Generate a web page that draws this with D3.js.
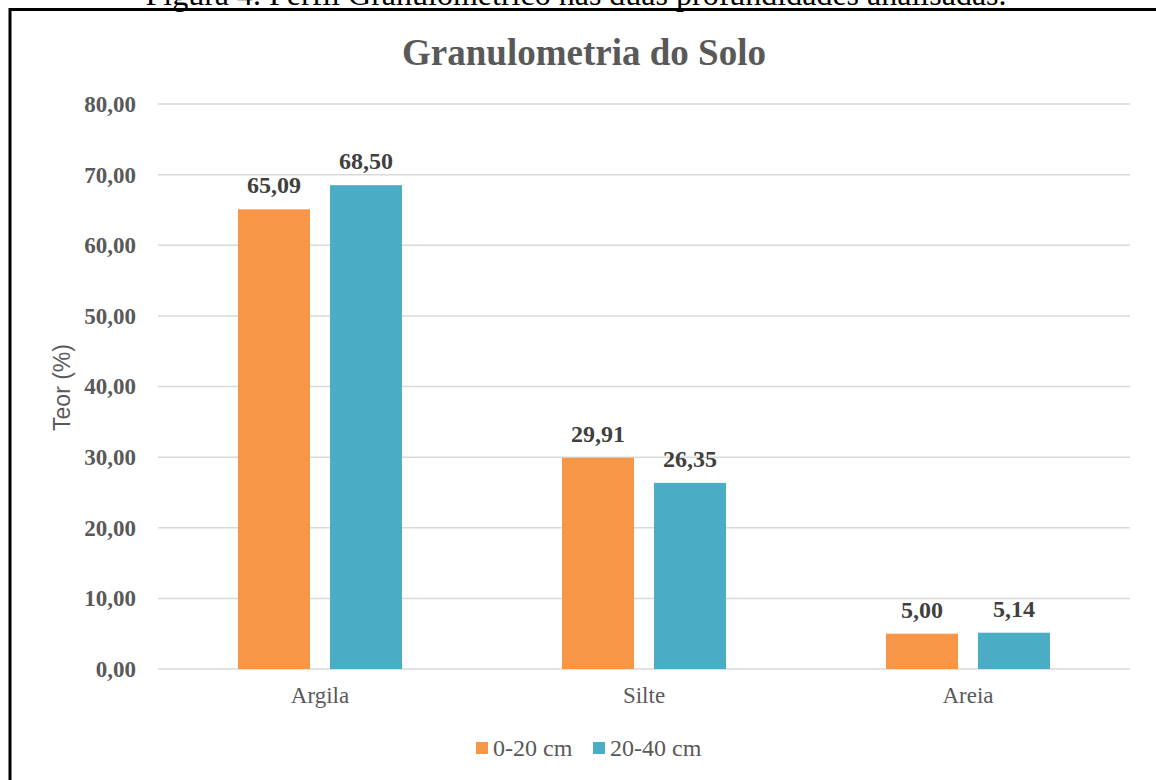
<!DOCTYPE html>
<html>
<head>
<meta charset="utf-8">
<script src="https://cdn.jsdelivr.net/npm/d3@7"></script>
<style>
  body { margin: 0; background: #fff; }
  svg { display: block; }
</style>
</head>
<body>
<div id="chart"></div>
<script>
var categories = ['Argila', 'Silte', 'Areia'];
var seriesNames = ['0-20 cm', '20-40 cm'];
var values0to20 = [65.09, 29.91, 5.00];
var values20to40 = [68.50, 26.35, 5.14];
var yTicks = [0, 10, 20, 30, 40, 50, 60, 70, 80];
var colors = ['#F79646', '#4BACC6'];

var width = 1156, height = 780;
var serif = 'Liberation Serif, Times New Roman, serif';
var fmt = function(v) { return v.toFixed(2).replace('.', ','); };

var svg = d3.select('#chart').append('svg')
  .attr('width', width)
  .attr('height', height);

// caption above the frame, cut by the page edge like in the scan
svg.append('text')
  .attr('x', 576).attr('y', 5)
  .attr('text-anchor', 'middle')
  .attr('font-family', serif)
  .attr('font-size', 32)
  .attr('fill', '#000')
  .text('Figura 4. Perfil Granulométrico nas duas profundidades analisadas.');

// frame
svg.append('path')
  .attr('d', 'M10,' + height + ' V9.5 H' + width)
  .attr('fill', 'none')
  .attr('stroke', '#000')
  .attr('stroke-width', 3);

var margin = { left: 158, right: 26, top: 104, bottom: 111 };
var x = d3.scaleBand()
  .domain(categories)
  .range([margin.left, width - margin.right]);
var y = d3.scaleLinear()
  .domain([0, 80])
  .range([height - margin.bottom, margin.top]);

// gridlines
svg.append('g').selectAll('line')
  .data(yTicks)
  .enter().append('line')
  .attr('x1', margin.left).attr('x2', width - margin.right)
  .attr('y1', function(d) { return y(d); })
  .attr('y2', function(d) { return y(d); })
  .attr('stroke', '#d9d9d9')
  .attr('stroke-width', 1.5);

// y axis labels
var yAxis = d3.axisLeft(y).tickValues(yTicks).tickFormat(fmt).tickSize(0).tickPadding(22);
var gy = svg.append('g')
  .attr('transform', 'translate(' + margin.left + ',0)')
  .call(yAxis);
gy.select('.domain').remove();
gy.selectAll('text')
  .attr('font-family', serif)
  .attr('font-weight', 'bold')
  .attr('font-size', 23)
  .attr('fill', '#595959');

// x axis labels
var xAxis = d3.axisBottom(x).tickSize(0).tickPadding(18);
var gx = svg.append('g')
  .attr('transform', 'translate(0,' + y(0) + ')')
  .call(xAxis);
gx.select('.domain').remove();
gx.selectAll('text')
  .attr('font-family', serif)
  .attr('font-size', 23)
  .attr('fill', '#595959');

// bars: 72px wide, 20px apart, centred in each category
var barW = 72, gap = 20;
var inner = d3.scaleBand()
  .domain([0, 1])
  .range([-(barW + gap / 2), barW + gap / 2])
  .paddingInner(gap / (barW + gap));

var seriesData = [values0to20, values20to40];
seriesData.forEach(function(vals, s) {
  var g = svg.append('g');
  g.selectAll('rect')
    .data(vals)
    .enter().append('rect')
    .attr('x', function(d, i) { return x(categories[i]) + x.bandwidth() / 2 + inner(s); })
    .attr('width', inner.bandwidth())
    .attr('y', function(d) { return y(d); })
    .attr('height', function(d) { return y(0) - y(d); })
    .attr('fill', colors[s]);
  g.selectAll('text')
    .data(vals)
    .enter().append('text')
    .attr('x', function(d, i) { return x(categories[i]) + x.bandwidth() / 2 + inner(s) + inner.bandwidth() / 2; })
    .attr('y', function(d) { return y(d) - 16; })
    .attr('text-anchor', 'middle')
    .attr('font-family', serif)
    .attr('font-weight', 'bold')
    .attr('font-size', 24)
    .attr('fill', '#404040')
    .text(fmt);
});

// title
svg.append('text')
  .attr('x', 584).attr('y', 65)
  .attr('text-anchor', 'middle')
  .attr('font-family', serif)
  .attr('font-weight', 'bold')
  .attr('font-size', 37)
  .attr('fill', '#595959')
  .text('Granulometria do Solo');

// y axis title
svg.append('text')
  .attr('transform', 'translate(70,' + (y(40) + 1) + ') rotate(-90)')
  .attr('text-anchor', 'middle')
  .attr('font-family', 'Liberation Sans, Arial, sans-serif')
  .attr('font-size', 23)
  .attr('fill', '#595959')
  .text('Teor (%)');

// legend
var legendX = [476, 593];
var lg = svg.append('g').selectAll('g')
  .data(seriesNames)
  .enter().append('g')
  .attr('transform', function(d, i) { return 'translate(' + legendX[i] + ',742)'; });
lg.append('rect')
  .attr('width', 12).attr('height', 12)
  .attr('fill', function(d, i) { return colors[i]; });
lg.append('text')
  .attr('x', 17).attr('y', 14)
  .attr('font-family', serif)
  .attr('font-size', 24)
  .attr('fill', '#595959')
  .text(function(d) { return d; });
</script>
</body>
</html>
